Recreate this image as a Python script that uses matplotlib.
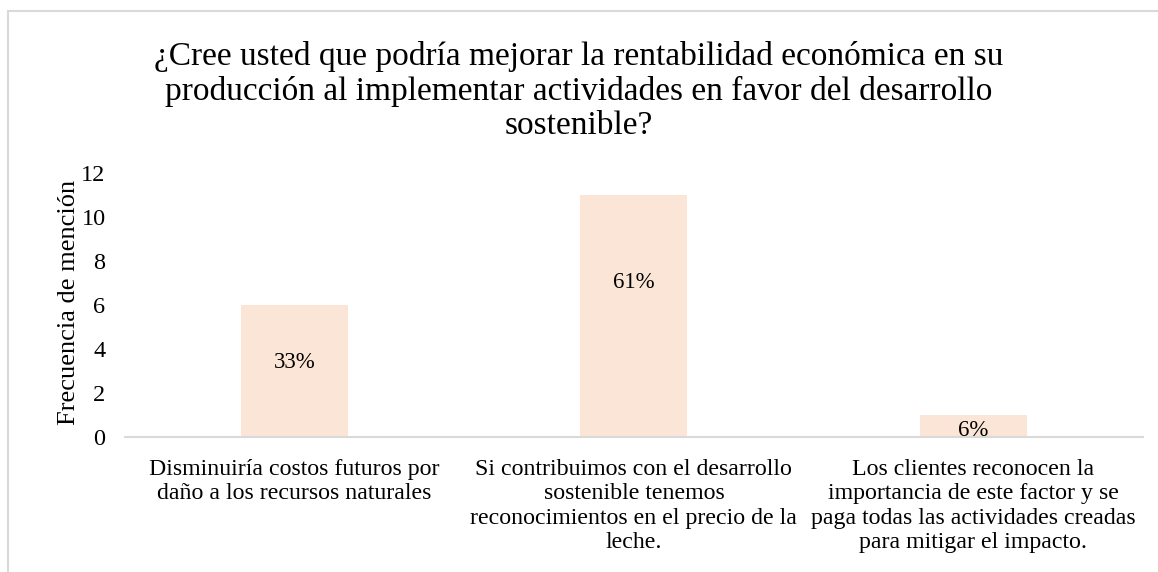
import matplotlib.pyplot as plt
from matplotlib.patches import Rectangle

# ---------------- data ----------------
categories = ['Disminuiría costos futuros por\ndaño a los recursos naturales',
              'Si contribuimos con el desarrollo\nsostenible tenemos\nreconocimientos en el precio de la\nleche.',
              'Los clientes reconocen la\nimportancia de este factor y se\npaga todas las actividades creadas\npara mitigar el impacto.']
frecuencia = [6, 11, 1]
porcentaje = ['33%', '61%', '6%']
label_y = [3.4, 7.0, 0.3]  # where excel left the data labels
yticks = [0, 2, 4, 6, 8, 10, 12]

title = ('¿Cree usted que podría mejorar la rentabilidad económica en su\n'
         'producción al implementar actividades en favor del desarrollo\n'
         'sostenible?')

plt.rcParams['font.family'] = ['Liberation Serif', 'DejaVu Serif']

fig = plt.figure(figsize=(11.58, 5.72), dpi=100)
fig.patches.append(Rectangle((8 / 1158, -0.1), 1.2, 1.1 - 11 / 572,
                             transform=fig.transFigure, fill=False,
                             edgecolor='#D9D9D9', linewidth=1.5))
ax = fig.add_axes([0.1079, 0.236, 0.879, 0.4616])

x = range(len(categories))
ax.bar(x, frecuencia, width=0.315, color='#FBE5D6', zorder=2)
for i, (v, t) in enumerate(zip(label_y, porcentaje)):
    ax.text(i, v, t, ha='center', va='center', fontsize=16.5, color='#000000', zorder=3)

ax.set_xlim(-0.5, 2.5)
ax.set_ylim(0, 12)
ax.set_yticks(yticks)
ax.set_xticks(list(x))
ax.set_xticklabels(categories, fontsize=17.2, linespacing=1.2)
ax.tick_params(axis='both', length=0)
ax.tick_params(axis='y', pad=14, labelsize=17.5)
ax.tick_params(axis='x', pad=16)
for s in ['top', 'right', 'left']:
    ax.spines[s].set_visible(False)
ax.spines['bottom'].set_color('#D9D9D9')
ax.spines['bottom'].set_linewidth(1.5)
ax.set_ylabel('Frecuencia de mención', fontsize=19)
ax.yaxis.set_label_coords(-0.044, 0.51)

fig.text(0.5, 1 - 91 / 572, title, ha='center', va='center', fontsize=24,
         linespacing=1.15)

fig.savefig('out.png', dpi=100)
